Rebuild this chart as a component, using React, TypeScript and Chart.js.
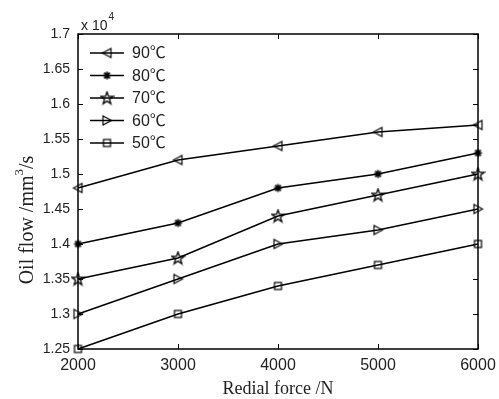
import React, { useEffect, useRef } from "react";
import { Chart, registerables } from "chart.js";

Chart.register(...registerables);

const forceValues = [2000, 3000, 4000, 5000, 6000];
const seriesLabels = ["90℃", "80℃", "70℃", "60℃", "50℃"];
const flow90 = [14800, 15200, 15400, 15600, 15700];
const flow80 = [14000, 14300, 14800, 15000, 15300];
const flow70 = [13500, 13800, 14400, 14700, 15000];
const flow60 = [13000, 13500, 14000, 14200, 14500];
const flow50 = [12500, 13000, 13400, 13700, 14000];
const markerKinds = ["triLeft", "asterisk", "pentagram", "triRight", "square"];

const xTitle = "Redial force /N";
const yTitleMain = "Oil flow /mm";
const yTitleSup = "3";
const yTitleTail = "/s";

function makeMarker(kind: string): HTMLCanvasElement {
  const s = 15;
  const c = document.createElement("canvas");
  c.width = s;
  c.height = s;
  const ctx = c.getContext("2d")!;
  const m = s / 2;
  ctx.strokeStyle = "#000";
  ctx.fillStyle = "#000";
  ctx.lineWidth = 1.2;
  ctx.beginPath();
  if (kind === "triLeft") {
    ctx.moveTo(m - 4.5, m);
    ctx.lineTo(m + 4, m - 4.5);
    ctx.lineTo(m + 4, m + 4.5);
    ctx.closePath();
    ctx.stroke();
  } else if (kind === "triRight") {
    ctx.moveTo(m + 4.5, m);
    ctx.lineTo(m - 4, m - 4.5);
    ctx.lineTo(m - 4, m + 4.5);
    ctx.closePath();
    ctx.stroke();
  } else if (kind === "square") {
    ctx.strokeRect(m - 3.5, m - 3.5, 7, 7);
  } else if (kind === "asterisk") {
    ctx.lineWidth = 1.6;
    for (let k = 0; k < 4; k++) {
      const a = (k * Math.PI) / 4;
      ctx.moveTo(m - 4 * Math.cos(a), m - 4 * Math.sin(a));
      ctx.lineTo(m + 4 * Math.cos(a), m + 4 * Math.sin(a));
    }
    ctx.stroke();
    ctx.beginPath();
    ctx.arc(m, m, 1.8, 0, Math.PI * 2);
    ctx.fill();
  } else if (kind === "pentagram") {
    ctx.lineWidth = 1.3;
    for (let k = 0; k < 10; k++) {
      const r = k % 2 === 0 ? 6.5 : 2.6;
      const a = -Math.PI / 2 + (k * Math.PI) / 5;
      const px = m + r * Math.cos(a);
      const py = m + 0.5 + r * Math.sin(a);
      if (k === 0) ctx.moveTo(px, py);
      else ctx.lineTo(px, py);
    }
    ctx.closePath();
    ctx.stroke();
  }
  return c;
}

export default function App() {
  const ref = useRef<HTMLCanvasElement | null>(null);

  useEffect(() => {
    document.body.style.margin = "0";
    const canvas = ref.current;
    if (!canvas) return;
    const markers = markerKinds.map(makeMarker);
    const series = [flow90, flow80, flow70, flow60, flow50];

    const decor = {
      id: "decor",
      afterDraw(chart: any) {
        const ctx = chart.ctx;
        const { left, right, top, bottom } = chart.chartArea;
        const xs = chart.scales.x;
        const ys = chart.scales.y;
        ctx.save();
        ctx.strokeStyle = "#000";
        // inward ticks
        ctx.lineWidth = 1;
        ctx.beginPath();
        ys.ticks.forEach((t: any) => {
          const y = Math.round(ys.getPixelForValue(t.value)) + 0.5;
          ctx.moveTo(left, y);
          ctx.lineTo(left + 5, y);
          ctx.moveTo(right, y);
          ctx.lineTo(right - 5, y);
        });
        xs.ticks.forEach((t: any) => {
          const x = Math.round(xs.getPixelForValue(t.value)) + 0.5;
          ctx.moveTo(x, bottom);
          ctx.lineTo(x, bottom - 5);
          ctx.moveTo(x, top);
          ctx.lineTo(x, top + 5);
        });
        ctx.stroke();
        // box
        ctx.lineWidth = 1.5;
        ctx.strokeRect(left, top, right - left, bottom - top);

        // exponent label
        ctx.fillStyle = "#222";
        ctx.textBaseline = "alphabetic";
        ctx.textAlign = "left";
        ctx.font = "14px 'Liberation Sans', Arial, sans-serif";
        ctx.fillText("x 10", left + 3, top - 4);
        const w10 = ctx.measureText("x 10").width;
        ctx.font = "10px 'Liberation Sans', Arial, sans-serif";
        ctx.fillText("4", left + 4 + w10, top - 14);

        // legend
        for (let i = 0; i < seriesLabels.length; i++) {
          const y = top + 19 + i * 22.5;
          ctx.lineWidth = 1.5;
          ctx.beginPath();
          ctx.moveTo(left + 12, y);
          ctx.lineTo(left + 46, y);
          ctx.stroke();
          const mk = markers[i];
          ctx.drawImage(mk, left + 29 - mk.width / 2, y - mk.height / 2);
          ctx.font = "16px 'Liberation Sans', 'Noto Sans CJK SC', sans-serif";
          ctx.textBaseline = "middle";
          ctx.fillStyle = "#222";
          ctx.fillText(seriesLabels[i], left + 54, y + 1);
        }

        // x title
        ctx.font = "18px 'Liberation Serif', 'Times New Roman', serif";
        ctx.textAlign = "center";
        ctx.textBaseline = "middle";
        ctx.fillStyle = "#222";
        ctx.fillText(xTitle, (left + right) / 2, 389);

        // y title (rotated)
        ctx.save();
        ctx.translate(28, 220);
        ctx.rotate(-Math.PI / 2);
        ctx.textAlign = "left";
        ctx.textBaseline = "middle";
        const mainFont = "20px 'Liberation Serif', 'Times New Roman', serif";
        const supFont = "13px 'Liberation Serif', 'Times New Roman', serif";
        ctx.font = mainFont;
        const w1 = ctx.measureText(yTitleMain).width;
        const w3 = ctx.measureText(yTitleTail).width;
        ctx.font = supFont;
        const w2 = ctx.measureText(yTitleSup).width;
        const total = w1 + w2 + w3;
        let x0 = -total / 2;
        ctx.font = mainFont;
        ctx.fillText(yTitleMain, x0, 0);
        x0 += w1;
        ctx.font = supFont;
        ctx.fillText(yTitleSup, x0, -8);
        x0 += w2;
        ctx.font = mainFont;
        ctx.fillText(yTitleTail, x0, 0);
        ctx.restore();

        ctx.restore();
      },
    };

    const chart = new Chart(canvas, {
      type: "line",
      data: {
        datasets: series.map((arr, i) => ({
          label: seriesLabels[i],
          data: forceValues.map((x, j) => ({ x, y: arr[j] })),
          borderColor: "#000",
          backgroundColor: "transparent",
          borderWidth: 1.5,
          pointStyle: markers[i] as any,
          pointRadius: 5,
          tension: 0,
          fill: false,
          clip: false as any,
        })),
      },
      options: {
        animation: false,
        responsive: false,
        devicePixelRatio: 1,
        layout: { padding: { left: 0, right: 21, top: 34, bottom: 0 } },
        plugins: { legend: { display: false }, tooltip: { enabled: false } },
        events: [],
        scales: {
          x: {
            type: "linear",
            min: 2000,
            max: 6000,
            grid: { display: false, drawTicks: false },
            border: { display: false },
            ticks: {
              stepSize: 1000,
              padding: 7,
              maxRotation: 0,
              color: "#222",
              font: { size: 16, family: "'Liberation Sans', Arial, sans-serif" },
              callback: (v: any) => String(v),
            },
            afterFit: (s: any) => {
              s.height = 50;
              s.paddingLeft = 0;
              s.paddingRight = 0;
            },
          },
          y: {
            type: "linear",
            min: 12500,
            max: 17000,
            grid: { display: false, drawTicks: false },
            border: { display: false },
            ticks: {
              stepSize: 500,
              padding: 8,
              color: "#222",
              font: { size: 14, family: "'Liberation Sans', Arial, sans-serif" },
              callback: (v: any) => String(Number((v / 10000).toFixed(2))),
            },
            afterFit: (s: any) => {
              s.width = 78;
              s.paddingTop = 0;
              s.paddingBottom = 0;
            },
          },
        },
      },
      plugins: [decor],
    } as any);

    return () => chart.destroy();
  }, []);

  return (
    <div style={{ width: 499, height: 399 }}>
      <canvas ref={ref} width={499} height={399} style={{ display: "block" }} />
    </div>
  );
}
